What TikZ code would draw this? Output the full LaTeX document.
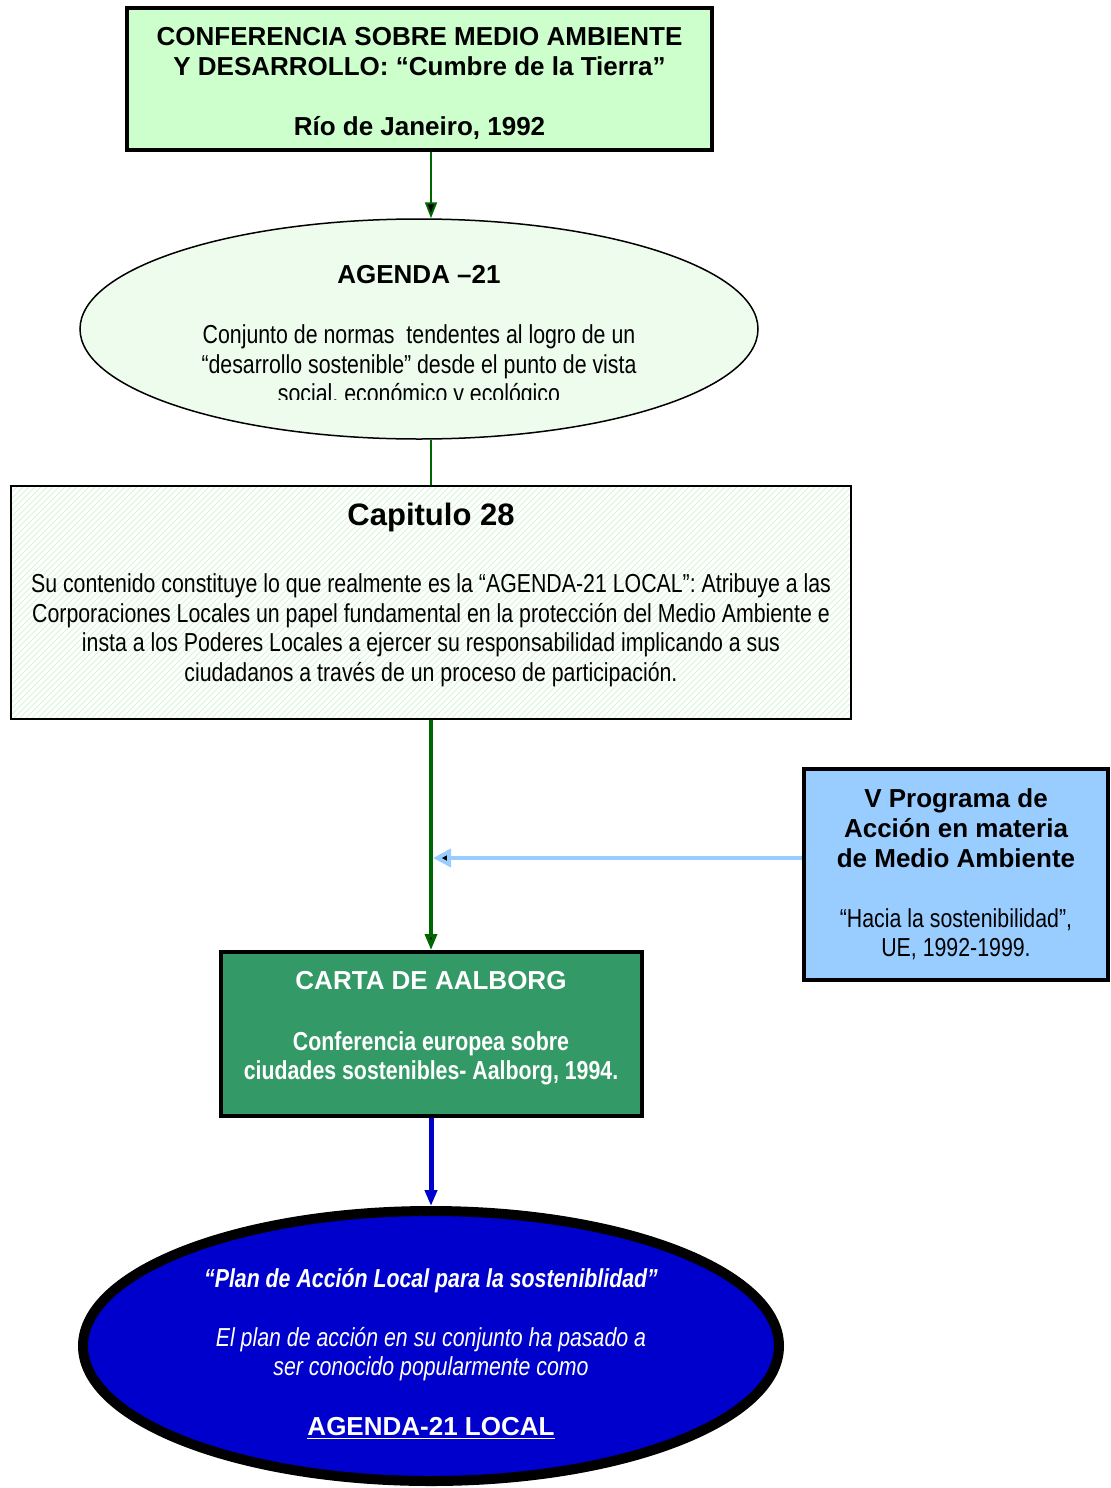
\documentclass[tikz,border=0pt]{standalone}
\usepackage{fontspec}
\setmainfont{Liberation Sans}
\newfontfamily\narrowfont[FakeStretch=0.82]{Liberation Sans}
\usetikzlibrary{shapes.geometric}
\usetikzlibrary{arrows.meta}
\usetikzlibrary{patterns}

\definecolor{cumbregreen}{HTML}{CCFFCC}
\definecolor{agendagreen}{HTML}{EEFCEE}
\definecolor{hatchgreen}{HTML}{D8F3D8}
\definecolor{programablue}{HTML}{99CCFF}
\definecolor{aalborggreen}{HTML}{339966}
\definecolor{planblue}{HTML}{0000CC}
\definecolor{linkgreen}{HTML}{006600}

\tikzset{
  txt/.style={font=\fontsize{13}{14.8}\selectfont,align=center},
  thickbox/.style={txt,rectangle,draw=black,line width=2pt,inner sep=0pt},
  thinbox/.style={txt,rectangle,draw=black,line width=0.75pt,inner sep=0pt},
  arrowtip/.style={-{Stealth[length=8pt,width=6pt,inset=0pt]}},
  widetip/.style={-{Stealth[length=9pt,width=9pt,inset=0pt]}},
  greenlink/.style={draw=linkgreen,line width=1pt},
  bluelink/.style={draw=planblue,line width=2.5pt},
  lightlink/.style={draw=programablue,line width=2pt}
}

\begin{document}
\begin{tikzpicture}[x=0.5pt,y=-0.5pt]
  \useasboundingbox (0,0) rectangle (1111,1488);

  \node[thickbox,fill=cumbregreen,minimum width=292.5pt,minimum height=71pt] (cumbre) at (419.5,79)
    {{\rule{0pt}{13.8pt}\bfseries CONFERENCIA SOBRE MEDIO AMBIENTE}\\
     {\bfseries Y DESARROLLO: “Cumbre de la Tierra”}\\[15.2pt]
     {\bfseries Río de Janeiro, 1992}};

  \node[ellipse,draw=black,line width=0.75pt,fill=agendagreen,inner sep=0pt,
        minimum width=339pt,minimum height=110pt] (agenda) at (419,329) {};
  \begin{scope}
    \clip (80,240) rectangle (760,399);
    \node[txt] (agendatext) at (419,337)
      {{\bfseries AGENDA –21}\\[15.2pt]
       {\narrowfont Conjunto de normas\ \ tendentes al logro de un}\\
       {\narrowfont “desarrollo sostenible” desde el punto de vista}\\
       {\narrowfont social, económico y ecológico}};
  \end{scope}

  \node[thinbox,pattern=north east lines,pattern color=hatchgreen,
        minimum width=420pt,minimum height=116.5pt] (capitulo) at (431,602.5)
    {{\fontsize{15.5}{18}\selectfont\bfseries Capitulo 28}\\[19pt]
     {\narrowfont Su contenido constituye lo que realmente es la “AGENDA-21 LOCAL”: Atribuye a las}\\
     {\narrowfont Corporaciones Locales un papel fundamental en la protección del Medio Ambiente e}\\
     {\narrowfont insta a los Poderes Locales a ejercer su responsabilidad implicando a sus}\\
     {\narrowfont ciudadanos a través de un proceso de participación.\rule[-10.5pt]{0pt}{10.5pt}}};

  \node[thickbox,fill=programablue,minimum width=152pt,minimum height=105.5pt] (programa) at (956,874.5)
    {{\bfseries V Programa de}\\
     {\bfseries Acción en materia}\\
     {\bfseries de Medio Ambiente}\\[15.2pt]
     {\narrowfont “Hacia la sostenibilidad”,}\\
     {\narrowfont UE, 1992-1999.}};

  \node[thickbox,fill=aalborggreen,text=white,minimum width=210.5pt,minimum height=82pt] (aalborg) at (431,1034)
    {{\bfseries CARTA DE AALBORG}\\[15.7pt]
     {\narrowfont\bfseries Conferencia europea sobre}\\
     {\narrowfont\bfseries ciudades sostenibles- Aalborg, 1994.\rule[-8.5pt]{0pt}{8.5pt}}};

  \node[txt,ellipse,draw=black,line width=5pt,fill=planblue,text=white,inner sep=0pt,
        minimum width=348pt,minimum height=135pt] (plan) at (431,1346)
    {{\rule{0pt}{17.5pt}\narrowfont\bfseries\itshape “Plan de Acción Local para la sosteniblidad”}\\[14.7pt]
     {\narrowfont\itshape El plan de acción en su conjunto ha pasado a}\\
     {\narrowfont\itshape ser conocido popularmente como}\\[15.2pt]
     {\bfseries\underline{AGENDA-21 LOCAL}}};

  \coordinate (vjoin) at (433,858);

  \path[greenlink]
    (cumbre.south -| capitulo.north) edge[arrowtip] (agenda.north -| capitulo.north)
    (agenda.south -| capitulo.north) edge (capitulo.north)
    (capitulo.south) edge[arrowtip,line width=1.75pt] (aalborg.north);
  \path[lightlink]
    (programa.west |- vjoin) edge[widetip] (vjoin);
  \path[bluelink]
    (aalborg.south) edge[arrowtip] (plan.north);
\end{tikzpicture}
\end{document}
